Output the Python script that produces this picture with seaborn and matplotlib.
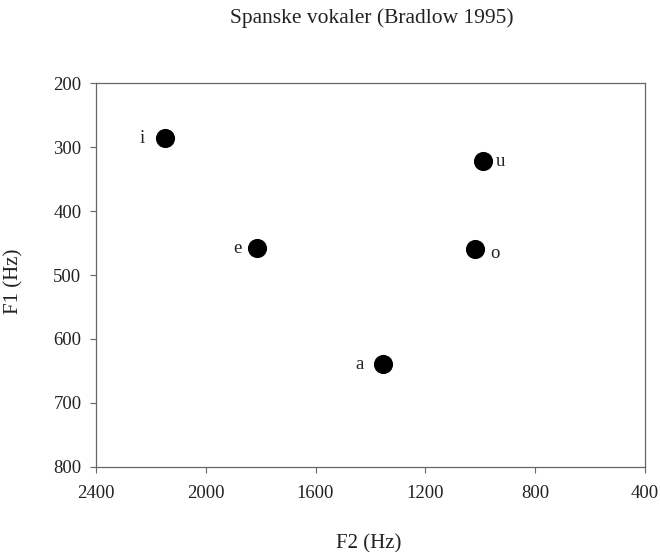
import matplotlib
matplotlib.use("Agg")
import matplotlib.pyplot as plt
import seaborn as sns
import pandas as pd

vowels = ["i", "e", "a", "o", "u"]
f2 = [2150, 1815, 1355, 1018, 991]
f1 = [285, 458, 640, 460, 322]
label_dx = [-22, -19, -23, 20, 18]   # label offsets in pixels
label_dy = [-1, 0, 0, -4, 0]
x_ticks = [2400, 2000, 1600, 1200, 800, 400]
y_ticks = [200, 300, 400, 500, 600, 700, 800]

df = pd.DataFrame({"vowel": vowels, "F2": f2, "F1": f1})

sns.set_theme(style="white")
plt.rcParams["font.family"] = ["Liberation Serif", "DejaVu Serif"]

fig = plt.figure(figsize=(6.6, 5.52), dpi=100)
ax = fig.add_axes([0.1455, 0.1545, 0.8315, 0.6945])

sns.scatterplot(data=df, x="F2", y="F1", ax=ax, s=190, color="black",
                edgecolor="black", linewidth=0, legend=False, zorder=3)

px = 72 / 100
for v, x, y, dx, dy in zip(vowels, f2, f1, label_dx, label_dy):
    ax.annotate(v, (x, y), xytext=(dx * px, dy * px), textcoords="offset points",
                ha="center", va="center", fontsize=13.5, color="#222222")

ax.set_xlim(2400, 400)
ax.set_ylim(800, 200)
ax.set_xticks(x_ticks)
ax.set_yticks(y_ticks)
ax.tick_params(axis="both", direction="out", length=4, width=0.8, color="#666666",
               labelsize=13.5, left=True, bottom=True, labelcolor="#222222")
ax.tick_params(axis="y", pad=6.5)
ax.tick_params(axis="x", pad=9)
for sp in ax.spines.values():
    sp.set_color("#666666")
    sp.set_linewidth(0.9)

ax.set_xlabel("F2 (Hz)", fontsize=15, color="#222222")
ax.set_ylabel("F1 (Hz)", fontsize=15, color="#222222")
ax.xaxis.set_label_coords(0.497, -0.175)
ax.yaxis.set_label_coords(-0.133, 0.483)
fig.text(0.5636, 0.985, "Spanske vokaler (Bradlow 1995)", fontsize=15.5,
         ha="center", va="top", color="#222222")

fig.savefig("out.png", dpi=100)
